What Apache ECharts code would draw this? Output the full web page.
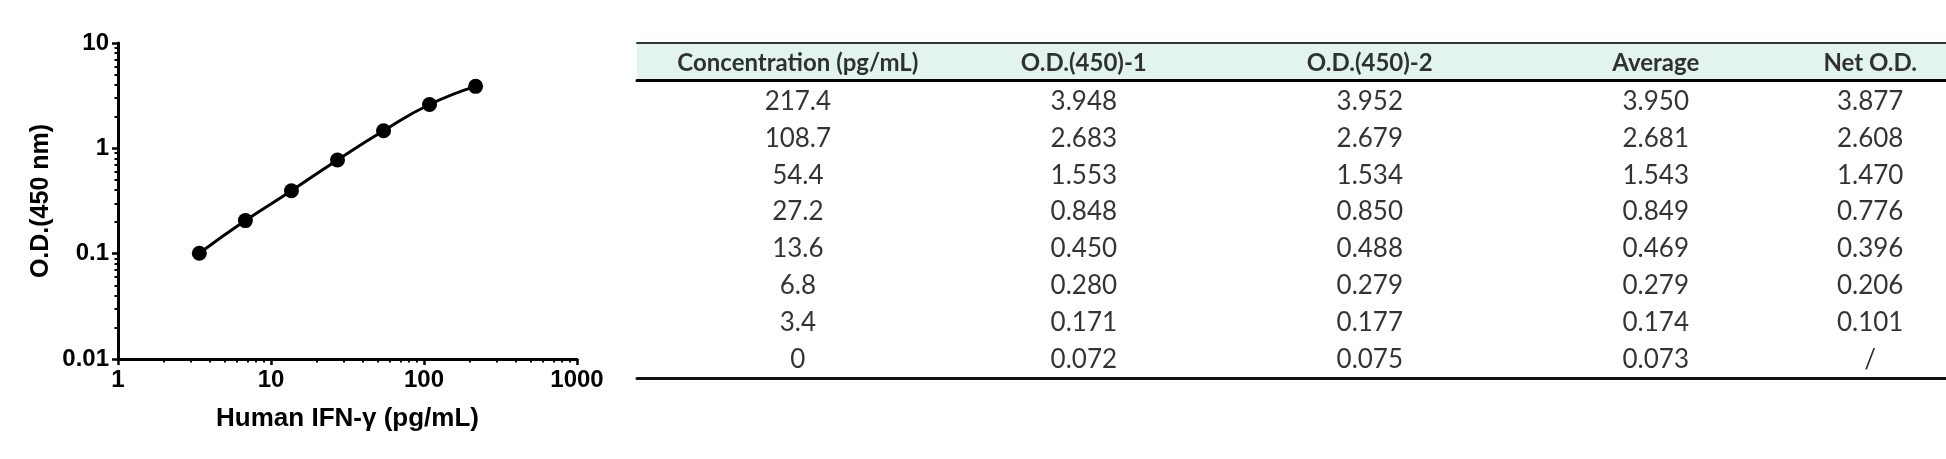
<!DOCTYPE html>
<html>
<head>
<meta charset="utf-8">
<script src="https://cdn.jsdelivr.net/npm/echarts@6/dist/echarts.min.js"></script>
<style>
html,body{margin:0;padding:0;background:#fff;}
#chart{width:1946px;height:459px;}
</style>
</head>
<body>
<div id="chart"></div>
<script>
// ---- data ----
const headers = ['Concentration (pg/mL)', 'O.D.(450)-1', 'O.D.(450)-2', 'Average', 'Net O.D.'];
const concLabels = ['217.4', '108.7', '54.4', '27.2', '13.6', '6.8', '3.4', '0'];
const od1Labels  = ['3.948', '2.683', '1.553', '0.848', '0.450', '0.280', '0.171', '0.072'];
const od2Labels  = ['3.952', '2.679', '1.534', '0.850', '0.488', '0.279', '0.177', '0.075'];
const avgLabels  = ['3.950', '2.681', '1.543', '0.849', '0.469', '0.279', '0.174', '0.073'];
const netLabels  = ['3.877', '2.608', '1.470', '0.776', '0.396', '0.206', '0.101', '/'];

const xTickValues = [1, 10, 100, 1000];
const xTickLabels = ['1', '10', '100', '1000'];
const yTickValues = [0.01, 0.1, 1, 10];
const yTickLabels = ['0.01', '0.1', '1', '10'];
const xMinorTicks = [2, 3, 4, 5, 6, 7, 8, 9, 20, 30, 40, 50, 60, 70, 80, 90, 200, 300, 400, 500, 600, 700, 800, 900];
const yMinorTicks = [0.02, 0.03, 0.04, 0.05, 0.06, 0.07, 0.08, 0.09, 0.2, 0.3, 0.4, 0.5, 0.6, 0.7, 0.8, 0.9, 2, 3, 4, 5, 6, 7, 8, 9];

const xTitle = 'Human IFN-γ (pg/mL)';
const yTitle = 'O.D.(450 nm)';

// ---- layout (not data) ----
const colSlot = [0, 4, 8, 12, 15];
const tableMin = -2.25, tableMax = 16.06;
const plotFont = "'Liberation Sans', Arial, sans-serif";
const tableFont = "Lato, 'Noto Sans', sans-serif";

// ---- build ----
const columns = [concLabels, od1Labels, od2Labels, avgLabels, netLabels];
const curve = [];
for (let i = 0; i < concLabels.length; i++) {
  if (netLabels[i] !== '/') curve.push([Number(concLabels[i]), Number(netLabels[i])]);
}
const headerData = headers.map((h, j) => [colSlot[j], 0, h]);
const bodyData = [];
columns.forEach((col, j) => col.forEach((v, i) => bodyData.push([colSlot[j], i, v])));

const fmt = (vals, labels) => (v) => {
  for (let k = 0; k < vals.length; k++) if (Math.abs(vals[k] - v) / vals[k] < 1e-6) return labels[k];
  return '';
};

const hiddenValueX = (grid, pos, line) => ({
  gridIndex: grid, type: 'value', min: tableMin, max: tableMax, position: pos,
  axisLine: line ? { show: true, onZero: false, lineStyle: line } : { show: false },
  axisTick: { show: false }, axisLabel: { show: false }, splitLine: { show: false }
});

const chart = echarts.init(document.getElementById('chart'), null, { renderer: 'canvas' });
chart.setOption({
  animation: false,
  backgroundColor: '#fff',
  grid: [
    { left: 118, top: 43, width: 459, height: 316, outerBoundsMode: 'none' },
    { left: 637, right: 0, top: 43, height: 37, show: true, backgroundColor: '#e2f4eb', borderWidth: 0, outerBoundsMode: 'none' },
    { left: 637, right: 0, top: 83, bottom: 81, outerBoundsMode: 'none' }
  ],
  xAxis: [
    {
      gridIndex: 0, type: 'log', logBase: 10, min: 1, max: 1000, position: 'bottom',
      axisLine: { show: true, onZero: false, lineStyle: { color: '#000', width: 3 } },
      axisTick: { show: true, customValues: xTickValues, length: 6, lineStyle: { color: '#000', width: 2.5 } },
      axisLabel: { show: true, customValues: xTickValues, formatter: fmt(xTickValues, xTickLabels), margin: 9,
        color: '#000', fontSize: 24, fontWeight: 'bold', fontFamily: plotFont },
      splitLine: { show: false },
      name: xTitle, nameLocation: 'middle', nameGap: 47,
      nameTextStyle: { color: '#000', fontSize: 26, fontWeight: 'bold', fontFamily: plotFont }
    },
    {
      gridIndex: 0, type: 'log', logBase: 10, min: 1, max: 1000, position: 'bottom',
      axisLine: { show: false },
      axisTick: { show: true, customValues: xMinorTicks, length: 3.5, lineStyle: { color: '#000', width: 2 } },
      axisLabel: { show: false }, splitLine: { show: false }
    },
    hiddenValueX(1, 'top', { color: '#333', width: 2 }),
    hiddenValueX(1, 'bottom', { color: '#000', width: 3 }),
    hiddenValueX(2, 'bottom', { color: '#111', width: 3 })
  ],
  yAxis: [
    {
      gridIndex: 0, type: 'log', logBase: 10, min: 0.01, max: 10, position: 'left',
      axisLine: { show: true, onZero: false, lineStyle: { color: '#000', width: 3 } },
      axisTick: { show: true, customValues: yTickValues, length: 6, lineStyle: { color: '#000', width: 2.5 } },
      axisLabel: { show: true, customValues: yTickValues, formatter: fmt(yTickValues, yTickLabels), margin: 9,
        color: '#000', fontSize: 24, fontWeight: 'bold', fontFamily: plotFont },
      splitLine: { show: false },
      name: yTitle, nameLocation: 'middle', nameGap: 64, nameRotate: 90,
      nameTextStyle: { color: '#000', fontSize: 25, fontWeight: 'bold', fontFamily: plotFont }
    },
    {
      gridIndex: 0, type: 'log', logBase: 10, min: 0.01, max: 10, position: 'left',
      axisLine: { show: false },
      axisTick: { show: true, customValues: yMinorTicks, length: 3.5, lineStyle: { color: '#000', width: 2 } },
      axisLabel: { show: false }, splitLine: { show: false }
    },
    { gridIndex: 1, type: 'category', data: ['header'], show: false },
    { gridIndex: 2, type: 'category', data: concLabels.map((c, i) => i), inverse: true, show: false }
  ],
  series: [
    {
      type: 'line', xAxisIndex: 0, yAxisIndex: 0, data: curve, smooth: true,
      symbol: 'circle', symbolSize: 15, showSymbol: true,
      lineStyle: { color: '#000', width: 3 }, itemStyle: { color: '#000' }, silent: true
    },
    {
      type: 'scatter', xAxisIndex: 2, yAxisIndex: 2, data: headerData, symbolSize: 1,
      itemStyle: { color: 'transparent' }, silent: true,
      label: { show: true, position: 'inside', offset: [0, 2], formatter: p => p.value[2],
        color: '#000', fontSize: 24, fontWeight: 'bold', fontFamily: tableFont }
    },
    {
      type: 'scatter', xAxisIndex: 4, yAxisIndex: 3, data: bodyData, symbolSize: 1,
      itemStyle: { color: 'transparent' }, silent: true,
      label: { show: true, position: 'inside', formatter: p => p.value[2],
        color: '#000', fontSize: 26, fontFamily: tableFont }
    }
  ]
});
</script>
</body>
</html>
